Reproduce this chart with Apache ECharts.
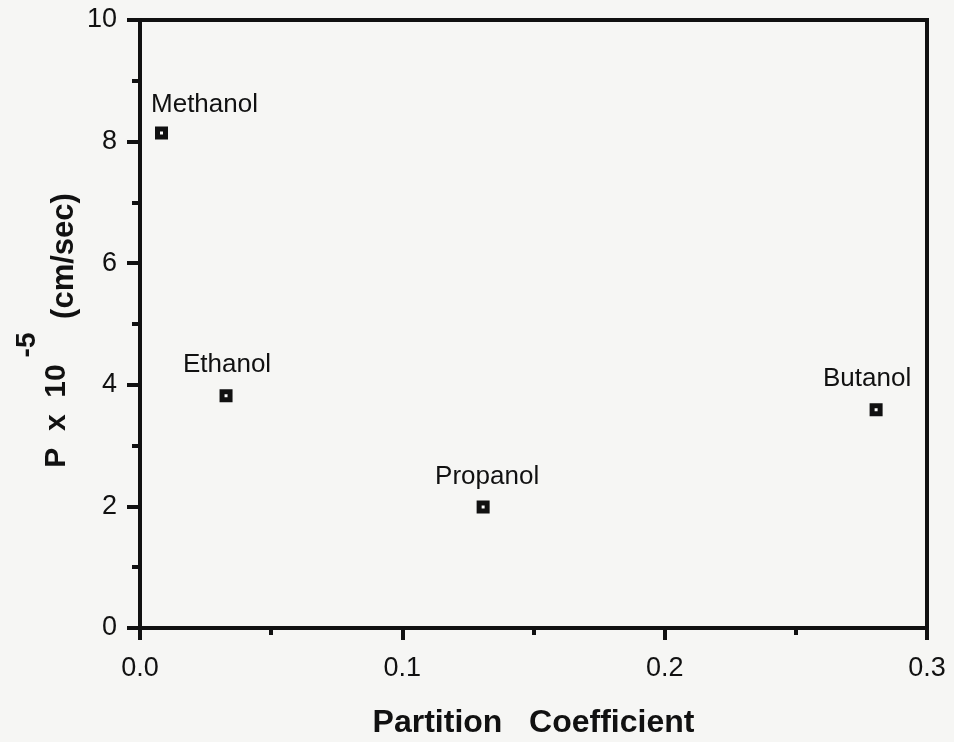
<!DOCTYPE html>
<html>
<head>
<meta charset="utf-8">
<script src="https://cdn.jsdelivr.net/npm/echarts@6/dist/echarts.min.js"></script>
<style>
  html, body { margin: 0; padding: 0; background: #f6f6f4; }
  #chart { width: 954px; height: 742px; }
</style>
</head>
<body>
<div id="chart"></div>
<script>
// Alcohol series: partition coefficient vs permeability (P x 10^-5 cm/sec)
const alcohols = ['Methanol', 'Ethanol', 'Propanol', 'Butanol'];
const partitionCoeff = [0.0082, 0.0328, 0.1308, 0.2806];
const permeability = [8.14, 3.82, 1.99, 3.59];

// Axis ranges
const xRange = [0, 0.3];
const yRange = [0, 10];

// Per-label pixel nudges relative to each marker
const labelNudge = [[43, -28], [1, -31], [4, -30], [-9, -31]];

const FONT = '"Liberation Sans", Arial, Helvetica, sans-serif';
const INK = '#111';

const chart = echarts.init(document.getElementById('chart'));

const points = alcohols.map((name, i) => ({
  name: name,
  value: [partitionCoeff[i], permeability[i]],
  label: { offset: labelNudge[i] }
}));

chart.setOption({
  backgroundColor: '#f6f6f4',
  animation: false,
  grid: {
    left: 140, right: 27, top: 20, bottom: 114,
    containLabel: false,
    outerBoundsMode: 'none',
    show: true, borderColor: INK, borderWidth: 4, backgroundColor: 'transparent'
  },
  xAxis: {
    type: 'value',
    min: xRange[0], max: xRange[1], interval: 0.1,
    name: 'Partition   Coefficient',
    nameLocation: 'middle',
    nameGap: 79,
    nameTextStyle: { fontFamily: FONT, fontWeight: 'bold', fontSize: 32, color: INK },
    axisLine: { show: true, onZero: false, lineStyle: { color: INK, width: 4 } },
    axisTick: { show: true, inside: false, length: 12, lineStyle: { color: INK, width: 4 } },
    minorTick: { show: true, splitNumber: 2, length: 7, lineStyle: { color: INK, width: 4 } },
    splitLine: { show: false },
    axisLabel: {
      margin: 27, fontFamily: FONT, fontSize: 27, color: INK,
      formatter: v => v.toFixed(1)
    }
  },
  yAxis: {
    type: 'value',
    min: yRange[0], max: yRange[1], interval: 2,
    axisLine: { show: true, onZero: false, lineStyle: { color: INK, width: 4 } },
    axisTick: { show: true, inside: false, length: 13, lineStyle: { color: INK, width: 4 } },
    minorTick: { show: true, splitNumber: 2, length: 8, lineStyle: { color: INK, width: 4 } },
    splitLine: { show: false },
    axisLabel: {
      margin: 23, fontFamily: FONT, fontSize: 27, color: INK,
      formatter: v => String(v)
    }
  },
  series: [{
    type: 'scatter',
    data: points,
    symbol: 'rect',
    symbolSize: 8,
    itemStyle: { color: '#ffffff', borderColor: INK, borderWidth: 5, opacity: 1 },
    label: {
      show: true,
      position: 'inside',
      formatter: p => p.name,
      fontFamily: FONT, fontSize: 26, color: INK
    },
    emphasis: { disabled: true }
  }],
  graphic: [
    {
      type: 'text', x: 57, y: 416, rotation: Math.PI / 2,
      style: { text: 'P  x  10', font: 'bold 30px ' + FONT, fill: INK, align: 'center', verticalAlign: 'middle' }
    },
    {
      type: 'text', x: 27, y: 345, rotation: Math.PI / 2,
      style: { text: '-5', font: 'bold 28px ' + FONT, fill: INK, align: 'center', verticalAlign: 'middle' }
    },
    {
      type: 'text', x: 64, y: 256, rotation: Math.PI / 2,
      style: { text: '(cm/sec)', font: 'bold 31px ' + FONT, fill: INK, align: 'center', verticalAlign: 'middle' }
    }
  ]
});
</script>
</body>
</html>
